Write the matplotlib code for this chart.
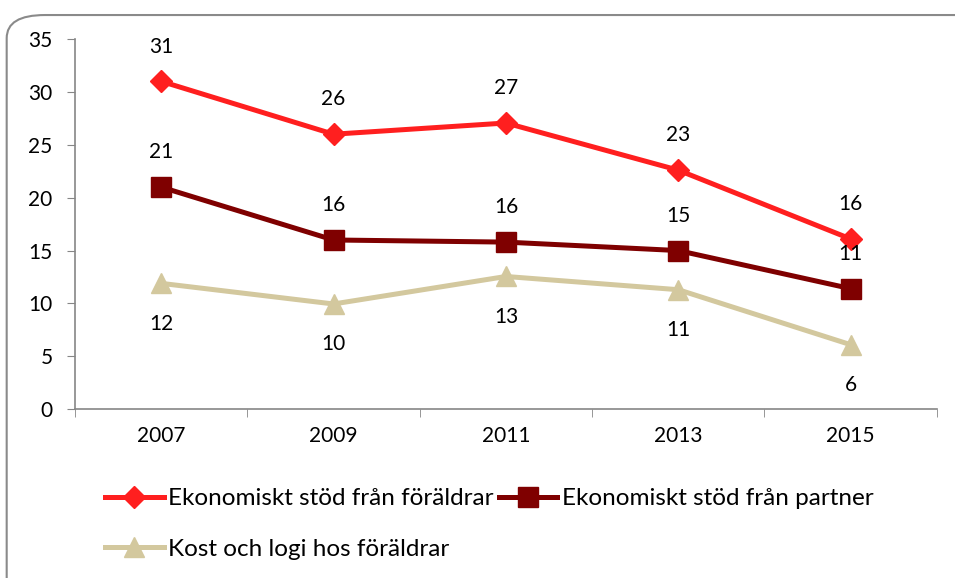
import matplotlib.pyplot as plt
from matplotlib.patches import FancyBboxPatch

plt.rcParams['font.family'] = ['Lato', 'DejaVu Sans']

years = ['2007', '2009', '2011', '2013', '2015']
stod_foraldrar = [31, 26, 27.06, 22.6, 16.1]
stod_partner = [21, 16, 15.8, 15, 11.4]
kost_logi = [11.9, 9.95, 12.55, 11.3, 6.1]
lab_foraldrar = ['31', '26', '27', '23', '16']
lab_partner = ['21', '16', '16', '15', '11']
lab_kost = ['12', '10', '13', '11', '6']

fig = plt.figure(figsize=(9.55, 5.78), dpi=100)
ax = fig.add_axes([0.0785, 0.292, 0.9025, 0.6405])

x = range(len(years))
l1, = ax.plot(x, stod_foraldrar, color='#FF1F1F', lw=3.6, marker='D', ms=11,
              label='Ekonomiskt stöd från föräldrar')
l2, = ax.plot(x, stod_partner, color='#7F0000', lw=3.6, marker='s', ms=14,
              label='Ekonomiskt stöd från partner')
l3, = ax.plot(x, kost_logi, color='#D3C89E', lw=3.6, marker='^', ms=15,
              label='Kost och logi hos föräldrar')

for i in x:
    ax.annotate(lab_foraldrar[i], (i, stod_foraldrar[i]), xytext=(0, 25),
                textcoords='offset points', ha='center', va='center', fontsize=15)
    ax.annotate(lab_partner[i], (i, stod_partner[i]), xytext=(0, 25),
                textcoords='offset points', ha='center', va='center', fontsize=15)
    ax.annotate(lab_kost[i], (i, kost_logi[i]), xytext=(0, -29),
                textcoords='offset points', ha='center', va='center', fontsize=15)

ax.set_xlim(-0.5, 4.5)
ax.set_ylim(0, 35)
ax.set_yticks(range(0, 36, 5))
ax.set_xticks(list(x))
ax.set_xticklabels(years)
ax.set_xticks([i - 0.5 for i in range(6)], minor=True)
ax.tick_params(axis='x', which='major', length=0, pad=12, labelsize=15)
ax.tick_params(axis='x', which='minor', length=6, color='#868686')
ax.tick_params(axis='y', length=6, color='#868686', pad=10, labelsize=15)
for s in ['top', 'right']:
    ax.spines[s].set_visible(False)
for s in ['left', 'bottom']:
    ax.spines[s].set_color('#868686')
    ax.spines[s].set_linewidth(1.2)

fig.legend(handles=[l1, l3, l2], ncol=2, loc='upper left',
           bbox_to_anchor=(0.1, 0.172), frameon=False, fontsize=17.5,
           handlelength=2.4, handletextpad=0.2, columnspacing=0.2,
           labelspacing=1.2, borderaxespad=0)

border = FancyBboxPatch((0.007, -0.1), 1.05, 1.074, transform=fig.transFigure,
                        boxstyle='round,pad=0,rounding_size=0.04',
                        fill=False, edgecolor='#8A8A8A', lw=1.5)
fig.patches.append(border)

fig.savefig('out.png', dpi=100)
